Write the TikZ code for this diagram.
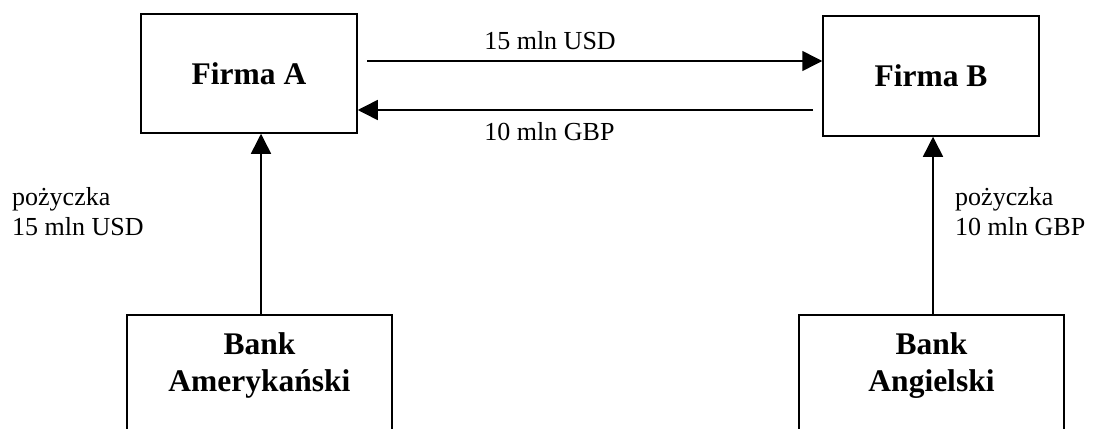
\documentclass[tikz,border=0pt]{standalone}
\usepackage{fontspec}
\setmainfont{Liberation Serif}
\usetikzlibrary{arrows.meta}
\begin{document}
\begin{tikzpicture}[x=1pt,y=-1pt,
  box/.style={draw,line width=1.5pt,inner sep=0pt,font=\fontsize{31.5}{37}\selectfont\bfseries},
  boldtxt/.style={inner sep=0pt,align=center,font=\fontsize{31.5}{37}\selectfont\bfseries},
  lbl/.style={inner sep=0pt,align=left,font=\fontsize{26}{30}\selectfont},
  arr/.style={line width=1.5pt,-{Triangle[length=20pt,width=20pt]}}]
\clip (0,0) rectangle (1094,428);
% firms
\node[box,minimum width=216pt,minimum height=119pt] (FA) at (249,73.5) {Firma A};
\node[box,minimum width=216pt,minimum height=120pt] (FB) at (931,76) {Firma B};
% banks (cut off at the bottom)
\node[box,minimum width=265pt,minimum height=170pt,anchor=north] (BA) at (259.5,314) {};
\node[box,minimum width=265pt,minimum height=170pt,anchor=north] (BB) at (931.5,314) {};
\node[boldtxt,anchor=base] (tBA) at (259.5,391) {Bank\\Amerykański};
\node[boldtxt,anchor=base] (tBB) at (931.5,391) {Bank\\Angielski};
% horizontal arrows
\coordinate (ua) at (367,61);
\draw[arr] (ua) -- (ua -| FB.west);
\coordinate (la) at (813,110);
\draw[arr] (la) -- (la -| FA.east);
\node[lbl,anchor=base] (l1) at (550,50) {15 mln USD};
\node[lbl,anchor=base] (l2) at (549.5,140) {10 mln GBP};
% vertical arrows
\coordinate (va) at (261,314);
\draw[arr] (va) -- (va |- FA.south);
\coordinate (vb) at (933,314);
\draw[arr] (vb) -- (vb |- FB.south);
\node[lbl,anchor=base west] (l3) at (12,235) {pożyczka\\15 mln USD};
\node[lbl,anchor=base west] (l4) at (955,235) {pożyczka\\10 mln GBP};
\end{tikzpicture}
\end{document}
